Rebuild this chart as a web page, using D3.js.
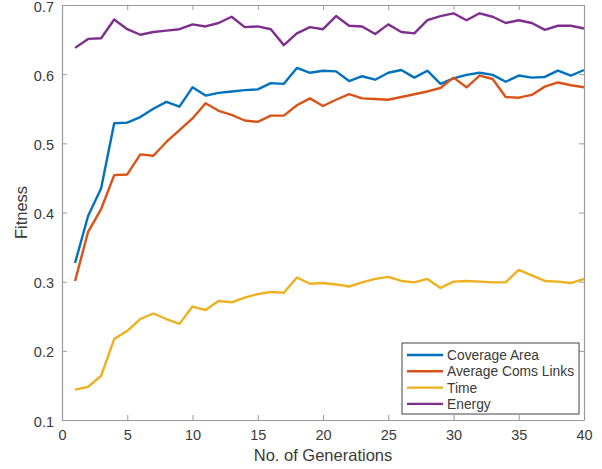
<!DOCTYPE html>
<html>
<head>
<meta charset="utf-8">
<script src="https://cdn.jsdelivr.net/npm/d3@7"></script>
<style>
  html, body { margin: 0; padding: 0; background: #fff; }
  svg { display: block; font-family: "Liberation Sans", Arial, Helvetica, sans-serif; }
</style>
</head>
<body>
<svg id="chart" width="602" height="469"></svg>
<script>
// Generation numbers 1..40
const generations = [1,2,3,4,5,6,7,8,9,10,11,12,13,14,15,16,17,18,19,20,
                     21,22,23,24,25,26,27,28,29,30,31,32,33,34,35,36,37,38,39,40];

const coverageArea = [0.327,0.395,0.435,0.529,0.530,0.538,0.550,0.560,0.553,0.581,
                      0.569,0.573,0.575,0.577,0.578,0.587,0.586,0.609,0.602,0.605,
                      0.604,0.590,0.597,0.592,0.602,0.606,0.595,0.605,0.586,0.594,
                      0.599,0.602,0.599,0.589,0.598,0.595,0.596,0.605,0.598,0.606];

const avgComsLinks = [0.301,0.372,0.405,0.454,0.455,0.484,0.482,0.502,0.519,0.536,
                      0.558,0.547,0.541,0.533,0.531,0.540,0.540,0.555,0.565,0.554,
                      0.563,0.571,0.565,0.564,0.563,0.567,0.571,0.575,0.580,0.595,
                      0.581,0.598,0.593,0.567,0.566,0.570,0.582,0.588,0.584,0.581];

const timeFit = [0.144,0.148,0.164,0.217,0.229,0.246,0.254,0.246,0.239,0.264,
                 0.259,0.272,0.270,0.277,0.282,0.285,0.284,0.306,0.297,0.298,
                 0.296,0.293,0.299,0.304,0.307,0.301,0.299,0.304,0.291,0.300,
                 0.301,0.300,0.299,0.299,0.317,0.309,0.301,0.300,0.298,0.304];

const energy = [0.638,0.651,0.652,0.679,0.665,0.657,0.661,0.663,0.665,0.672,
                0.669,0.674,0.683,0.668,0.669,0.665,0.642,0.659,0.668,0.665,
                0.684,0.670,0.669,0.658,0.672,0.661,0.659,0.678,0.684,0.688,
                0.678,0.688,0.683,0.674,0.678,0.674,0.664,0.670,0.670,0.666];

const seriesNames = ["Coverage Area", "Average Coms Links", "Time", "Energy"];
const seriesColors = ["#0072BD", "#D95319", "#EDB120", "#7E2F8E"];
const seriesValues = [coverageArea, avgComsLinks, timeFit, energy];

const xTicks = [0,5,10,15,20,25,30,35,40];
const yTicks = [0.1,0.2,0.3,0.4,0.5,0.6,0.7];

const svg = d3.select("#chart");
const plotLeft = 62, plotRight = 584, plotTop = 5, plotBottom = 420;

const x = d3.scaleLinear().domain([0, 40]).range([plotLeft, plotRight]);
const y = d3.scaleLinear().domain([0.1, 0.7]).range([plotBottom, plotTop]);

const axisColor = "#9a9a9a";
const textColor = "#3a3a3a";

// Series lines
const line = d3.line().x((d, i) => x(generations[i])).y(d => y(d));
seriesValues.forEach((vals, k) => {
  svg.append("path")
    .datum(vals)
    .attr("fill", "none")
    .attr("stroke", seriesColors[k])
    .attr("stroke-width", 2.4)
    .attr("stroke-linejoin", "round")
    .attr("d", line);
});

// Axes with inward ticks on all four sides
function styleAxis(g) {
  g.select(".domain").attr("stroke", axisColor).attr("stroke-width", 1.2);
  g.selectAll(".tick line").attr("stroke", axisColor).attr("stroke-width", 1);
  g.selectAll(".tick text").attr("fill", textColor).attr("font-size", 14.5)
    .attr("font-family", "Liberation Sans, Arial, sans-serif");
}

const xAxis = svg.append("g").attr("transform", `translate(0,${plotBottom})`)
  .call(d3.axisBottom(x).tickValues(xTicks).tickSizeInner(-5).tickSizeOuter(0).tickPadding(10));
styleAxis(xAxis);

const xAxisTop = svg.append("g").attr("transform", `translate(0,${plotTop})`)
  .call(d3.axisTop(x).tickValues(xTicks).tickSizeInner(-5).tickSizeOuter(0).tickFormat(""));
styleAxis(xAxisTop);

const yAxis = svg.append("g").attr("transform", `translate(${plotLeft},0)`)
  .call(d3.axisLeft(y).tickValues(yTicks).tickSizeInner(-5).tickSizeOuter(0).tickPadding(8)
    .tickFormat(d3.format(".1f")));
styleAxis(yAxis);
yAxis.selectAll(".tick text").attr("dy", "0.42em");

const yAxisRight = svg.append("g").attr("transform", `translate(${plotRight},0)`)
  .call(d3.axisRight(y).tickValues(yTicks).tickSizeInner(-5).tickSizeOuter(0).tickFormat(""));
styleAxis(yAxisRight);

// Axis titles
svg.append("text")
  .attr("x", (plotLeft + plotRight) / 2).attr("y", 461)
  .attr("text-anchor", "middle")
  .attr("font-size", 16.5).attr("fill", textColor)
  .text("No. of Generations");

svg.append("text")
  .attr("transform", `translate(27,${(plotTop + plotBottom) / 2}) rotate(-90)`)
  .attr("text-anchor", "middle")
  .attr("font-size", 16.5).attr("fill", textColor)
  .text("Fitness");

// Legend
const lg = svg.append("g").attr("transform", "translate(402,343)");
lg.append("rect")
  .attr("width", 177).attr("height", 71)
  .attr("fill", "#fff").attr("stroke", "#444").attr("stroke-width", 1);
seriesNames.forEach((name, k) => {
  const yy = 12 + k * 16.3;
  lg.append("line")
    .attr("x1", 5).attr("x2", 41).attr("y1", yy).attr("y2", yy)
    .attr("stroke", seriesColors[k]).attr("stroke-width", 2.4);
  lg.append("text")
    .attr("x", 45).attr("y", yy + 5)
    .attr("font-size", 13.8).attr("fill", textColor)
    .text(name);
});
</script>
</body>
</html>
